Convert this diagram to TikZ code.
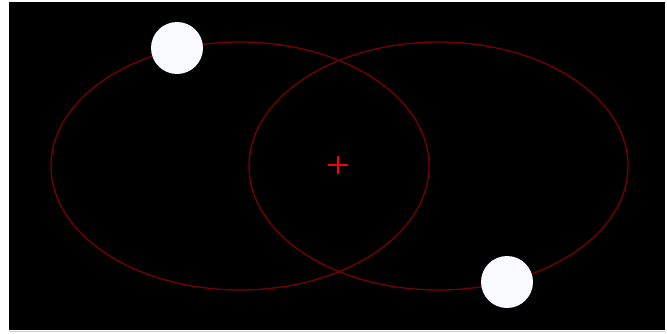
\documentclass[tikz,border=0pt]{standalone}
\definecolor{orbitred}{RGB}{120,0,0}
\definecolor{ballwhite}{RGB}{248,250,255}
\begin{document}
\begin{tikzpicture}[x=0.03cm,y=-0.03cm]
            \useasboundingbox (0,0) rectangle (667,333);
            \fill[white] (0,0) rectangle (667,333);
            \fill[black] (9,2) rectangle (665,330);
            \draw[gray!40, line width=0.6pt] (9,331.5) -- (665,331.5);
            % orbits (dark red)
            \draw[orbitred, line width=1.1pt] (240,166) ellipse [x radius=189, y radius=124];
            \draw[orbitred, line width=1.1pt] (438.5,166) ellipse [x radius=189.5, y radius=124];
            % centre mark (red)
            \coordinate (c) at (338,165);
            \draw[red, line width=1.4pt] ([xshift=-0.3cm]c) -- ([xshift=0.3cm]c);
            \draw[red, line width=1.4pt] ([yshift=-0.27cm]c) -- ([yshift=0.27cm]c);
            % bodies (white)
            \node[circle, fill=ballwhite, minimum size=1.56cm, inner sep=0pt] (b1) at (177,48) {};
            \node[circle, fill=ballwhite, minimum size=1.56cm, inner sep=0pt] (b2) at (507,282) {};
        \end{tikzpicture}
\end{document}
